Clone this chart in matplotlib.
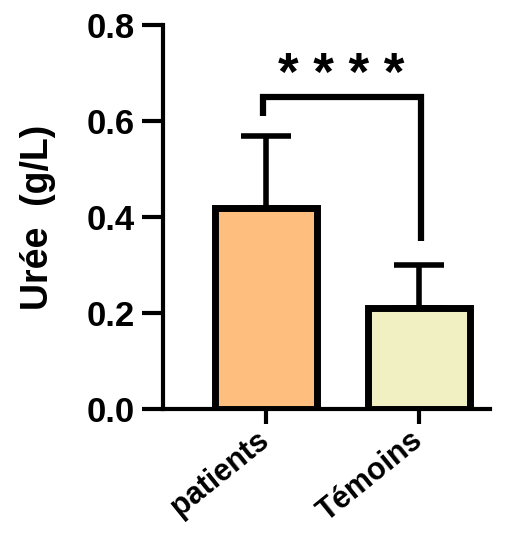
import matplotlib
matplotlib.use('Agg')
from matplotlib import pyplot as plt

plt.rcParams['font.family'] = ['Liberation Sans', 'DejaVu Sans']
plt.rcParams['font.weight'] = 'bold'

groups = ['patients', 'Témoins']
means = [0.42, 0.21]
sd = [0.15, 0.09]
colors = ['#FEBE7E', '#F1F0C2']
yticks = [0.0, 0.2, 0.4, 0.6, 0.8]
stars = '* * * *'

fig = plt.figure(figsize=(5.14, 5.33), dpi=100)
ax = fig.add_axes([0.317, 0.2326, 0.636, 0.72])

x = [0, 1]
ax.bar(x, means, width=0.667, color=colors, edgecolor='black', linewidth=5, zorder=3)
ax.errorbar(x, means, yerr=[[0, 0], sd], fmt='none', ecolor='black',
            elinewidth=4, capsize=18, capthick=4, zorder=2)

# significance bracket
ax.plot([-0.02, -0.02, 1.01, 1.01], [0.61, 0.65, 0.65, 0.35], color='black',
        lw=4.5, solid_joinstyle='miter', solid_capstyle='butt', clip_on=False, zorder=4)
ax.text(0.49, 0.643, stars, ha='center', va='bottom', fontsize=38, fontweight='bold')

ax.set_xlim(-0.67, 1.46)
ax.set_ylim(0, 0.8)
ax.set_yticks(yticks)
ax.set_yticklabels(['%.1f' % v for v in yticks], fontsize=25, fontweight='bold')
ax.set_xticks(x)
ax.set_xticklabels(groups, rotation=39, ha='right', va='center', rotation_mode='anchor',
                   fontsize=22, fontweight='bold')
ax.set_ylabel('Urée  (g/L)', fontsize=27, fontweight='bold', labelpad=22)

for s in ['top', 'right']:
    ax.spines[s].set_visible(False)
for s in ['left', 'bottom']:
    ax.spines[s].set_linewidth(3)
ax.tick_params(axis='y', length=15, width=3, pad=5)
ax.tick_params(axis='x', length=11, width=3, pad=9)

fig.savefig('out.png', dpi=100)
